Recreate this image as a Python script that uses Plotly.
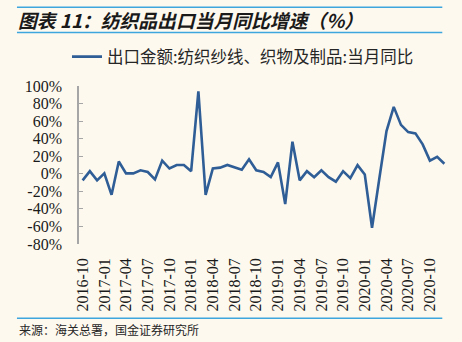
import plotly.graph_objects as go

# Monthly textile yarn / fabric / product exports, YoY growth (%), 2016-10 .. 2020-12
months = [f"{y}-{m:02d}" for y, m in
          [(2016, 10), (2016, 11), (2016, 12)]
          + [(y, m) for y in range(2017, 2021) for m in range(1, 13)]]
yoy = [
    -7.5, 3, -7.5, 0.5, -24, 14, 0.5, 0.5, 4, 2, -6.5, 15,          # 2016-10 .. 2017-09
    6, 10, 10, 3, 94, -24, 6, 7, 10, 7.5, 4.5, 16.5,                 # 2017-10 .. 2018-09
    4, 2, -3.8, 13, -34.5, 36.5, -7.5, 3, -4, 4, -3.8, -9,           # 2018-10 .. 2019-09
    3, -5, 9.8, -0.8, -61.5, -6, 48.7, 76.2, 55.7, 47.5, 46, 33.5,   # 2019-10 .. 2020-09
    15, 19.2, 11.4,                                                  # 2020-10 .. 2020-12
]
x_tick_labels = months[::3]
y_tick_values = [-80, -60, -40, -20, 0, 20, 40, 60, 80, 100]
y_tick_labels = [f"{v}%" for v in y_tick_values]

series_name = "出口金额:纺织纱线、织物及制品:当月同比"
title_text = "图表 11：纺织品出口当月同比增速（%）"
source_text = "来源：海关总署，国金证券研究所"

W, H = 462, 342
L, R, T, B = 79, 14.3, 86, 98.3
pw, ph = W - L - R, H - T - B

def px(xp):
    return (xp - L) / pw

def py(yp):
    return (H - B - yp) / ph

bg = "#fdf9ef"
axis_grey = "#a6a6a6"
rule_blue = "#3ea6dd"
serif = "Liberation Serif"
cjk = "Noto Sans CJK SC"

fig = go.Figure()
fig.add_trace(go.Scatter(
    x=months, y=yoy, mode="lines", name=series_name,
    line=dict(color="#2f5d96", width=2.6),
))

n = len(months)
fig.update_layout(
    width=W, height=H,
    margin=dict(l=L, r=R, t=T, b=B, pad=0),
    paper_bgcolor=bg, plot_bgcolor=bg,
    showlegend=True,
    legend=dict(orientation="h", x=px(67), xanchor="left", y=py(57), yanchor="middle",
                font=dict(family=cjk, size=16.5, color="#262626"),
                bgcolor="rgba(0,0,0,0)"),
    title=dict(text=title_text, xref="container", yref="container",
               x=18 / W, xanchor="left", y=1 - 21 / H, yanchor="middle",
               font=dict(family=cjk, size=18.8, color="#1a1a1a", weight="bold", style="italic")),
    xaxis=dict(type="category", range=[-0.5, n - 0.5], tickvals=x_tick_labels,
               ticktext=x_tick_labels, tickangle=-90, showline=False, ticks="",
               showgrid=False, zeroline=False, ticklabelstandoff=10,
               tickfont=dict(family=serif, size=16, color="#1a1a1a")),
    # category-boundary axis drawn along the zero level
    xaxis2=dict(overlaying="x", anchor="free", position=80 / 180, range=[-0.5, n - 0.5],
                tickvals=[k - 0.5 for k in range(0, n + 1, 3)], showticklabels=False,
                ticks="inside", ticklen=4, tickcolor=axis_grey, tickwidth=1.2,
                showline=True, linecolor=axis_grey, linewidth=1.6,
                showgrid=False, zeroline=False),
    yaxis=dict(range=[-80, 100], tickvals=y_tick_values, ticktext=y_tick_labels,
               ticks="inside", ticklen=4, tickcolor=axis_grey, tickwidth=1.2,
               showline=True, linecolor=axis_grey, linewidth=1.6,
               showgrid=False, zeroline=False, ticklabelstandoff=12,
               tickfont=dict(family=serif, size=16, color="#1a1a1a")),
)

# header / footer rules
for yp in (7.3, 32.7, 317.7):
    fig.add_shape(type="line", xref="paper", yref="paper",
                  x0=px(17), x1=px(442), y0=py(yp), y1=py(yp),
                  line=dict(color=rule_blue, width=1.5))

fig.add_annotation(text=source_text, xref="paper", yref="paper",
                   x=px(17), xanchor="left", y=py(329), yanchor="middle",
                   showarrow=False, font=dict(family=cjk, size=12, color="#262626"))

fig.write_html("out.html")
